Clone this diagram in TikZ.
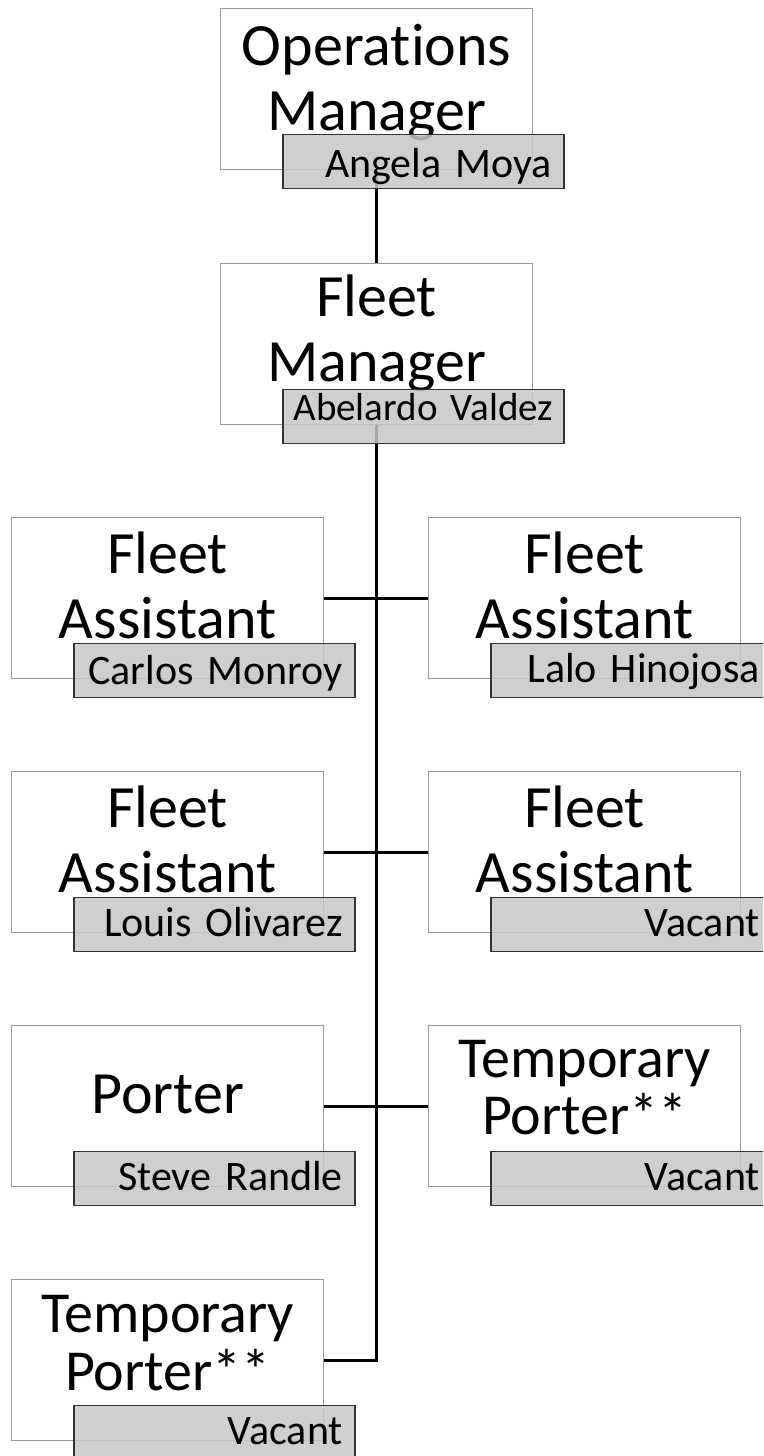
\documentclass[tikz,border=0pt]{standalone}
\usepackage{fontspec}
\setmainfont{Carlito}[Ligatures=NoCommon]
\usetikzlibrary{calc,backgrounds}

\tikzset{
  titlebox/.style={draw=black!40, line width=1.3pt, fill=white,
    minimum width=312pt, minimum height=161pt, inner sep=0pt, anchor=north west},
  titletext/.style={font=\fontsize{60}{65}\selectfont, inner sep=0pt, anchor=base},
  smalltitle/.style={font=\fontsize{58}{62}\selectfont},
  namebox/.style={draw=black!80, line width=1.6pt, fill=black!22, fill opacity=0.85,
    text opacity=1, anchor=south west, font=\fontsize{42}{46}\selectfont,
    inner xsep=12pt, inner ysep=0pt, text width=257pt, align=right,
    text height=39pt, text depth=15pt},
  link/.style={line width=2.8pt, draw=black},
}

% one position: title box, its title lines, and the person's name tab
\newcommand\orgunit[6]{%
  \node[titlebox] (#1) at (#2,#3) {};
  #4
  \node[namebox,#6] (#1-n) at ($(#1.south west)+(62,19)$) {#5};
}
% two title lines set on baselines measured from the top of the box
\newcommand\twolines[6]{%
  \node[titletext,#6] (#1-a) at ($(#1.north)+(0,#4)$) {#2};
  \node[titletext,#6] (#1-b) at ($(#1.north)+(0,#5)$) {#3};
}

\begin{document}
\begin{tikzpicture}[x=1pt,y=-1pt]
\clip (0,0) rectangle (763,1456);

\orgunit{ops}{220}{8}{\twolines{ops}{Operations}{Manager}{57}{122}{}}
  {Angela Moya}{text height=43pt, text depth=11pt}
\orgunit{fm}{220}{263}{\twolines{fm}{Fleet}{Manager}{53}{118}{}}
  {Abelardo Valdez}{font=\fontsize{39}{43}\selectfont, inner xsep=2pt,
   text width=277pt, align=center, text height=31pt, text depth=23pt}

\orgunit{fa1}{11}{517}{\twolines{fa1}{Fleet}{Assistant}{56}{121}{}}
  {Carlos Monroy}{text height=41pt, text depth=13pt}
\orgunit{fa2}{428}{517}{\twolines{fa2}{Fleet}{Assistant}{56}{121}{}}
  {Lalo Hinojosa}{}

\orgunit{fa3}{11}{771}{\twolines{fa3}{Fleet}{Assistant}{56}{121}{}}
  {Louis Olivarez}{}
\orgunit{fa4}{428}{771}{\twolines{fa4}{Fleet}{Assistant}{56}{121}{}}
  {Vacant}{}

\orgunit{po}{11}{1025}{\node[titletext] (po-a) at ($(po.north)+(0,88)$) {Porter};}
  {Steve Randle}{}
\orgunit{tp1}{428}{1025}{\twolines{tp1}{Temporary}{Porter**}{52}{109}{smalltitle}}
  {Vacant}{}

\orgunit{tp2}{11}{1279}{\twolines{tp2}{Temporary}{Porter**}{53}{111}{smalltitle}}
  {Vacant}{}

% reporting lines, kept behind the boxes
\begin{pgfonlayer}{background}
  \draw[link] (ops.south) -- (fm.north);
  \draw[link] (fm.south) |- (tp2.east);
  \draw[link] (fa1.east) -- (fa2.west);
  \draw[link] (fa3.east) -- (fa4.west);
  \draw[link] (po.east) -- (tp1.west);
\end{pgfonlayer}
\end{tikzpicture}
\end{document}
